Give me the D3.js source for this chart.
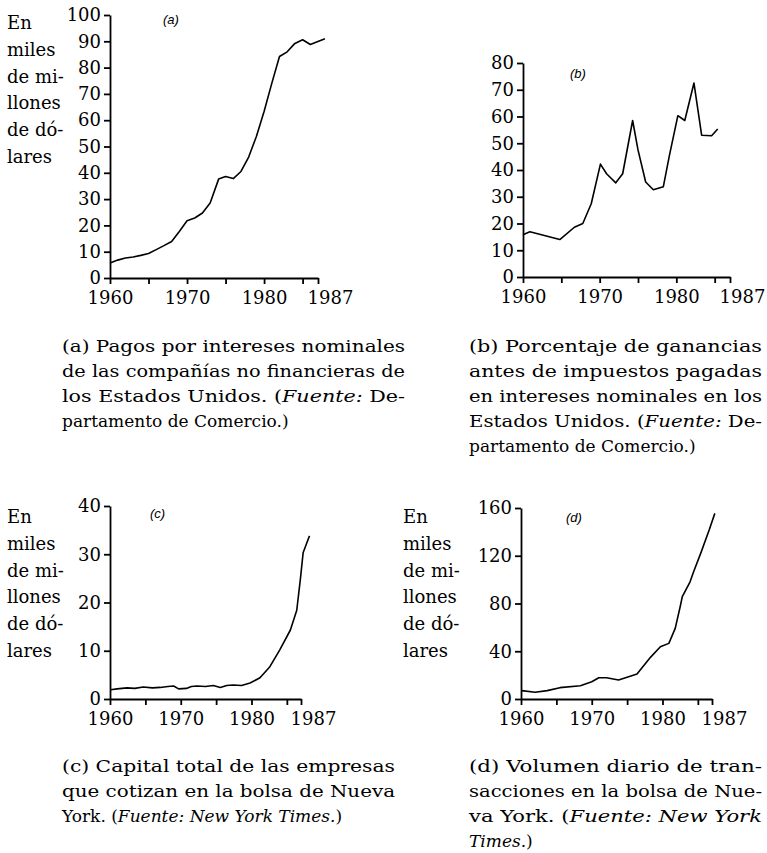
<!DOCTYPE html>
<html>
<head>
<meta charset="utf-8">
<script src="https://cdn.jsdelivr.net/npm/d3@7"></script>
<style>
  body { margin: 0; background: #fff; }
  svg text { font-family: "DejaVu Serif", serif; fill: #000; }
</style>
</head>
<body>
<svg id="chart" width="767" height="853"></svg>
<script>
// (a) Nominal interest payments of US non-financial corporations (billions of dollars)
const yearsA  = [1960, 1961, 1962, 1963, 1964, 1965, 1966, 1967, 1968, 1969, 1970, 1971, 1972, 1973, 1974.1, 1975, 1976, 1977, 1978, 1979, 1980, 1981, 1982, 1983, 1984, 1985, 1986, 1987.9];
const valuesA = [5.7, 6.8, 7.6, 8.0, 8.6, 9.3, 10.8, 12.3, 13.9, 17.7, 21.8, 22.8, 24.7, 28.5, 37.6, 38.6, 37.8, 40.5, 46.0, 53.8, 63.3, 74.0, 84.2, 86.0, 89.2, 90.6, 88.8, 91.0];

// (b) Share of pre-tax profits paid as nominal interest (percent)
const yearsB  = [1960, 1960.9, 1964.8, 1966.7, 1967.8, 1968.9, 1970.1, 1970.9, 1972.1, 1973.0, 1974.3, 1975.0, 1976.0, 1977.0, 1978.3, 1979.1, 1980.2, 1981.1, 1982.3, 1983.3, 1984.6, 1985.4];
const valuesB = [15.8, 16.9, 14.0, 18.6, 20.0, 27.4, 42.2, 38.6, 35.2, 38.6, 58.5, 47.5, 35.5, 32.6, 33.7, 45.5, 60.3, 58.5, 72.5, 53.0, 52.8, 55.3];

// (c) Total capital of companies listed on the NYSE (billions of dollars)
const yearsC  = [1960.1, 1961.0, 1962.4, 1963.5, 1964.7, 1966.0, 1967.1, 1968.2, 1969.0, 1969.7, 1970.8, 1971.5, 1972.3, 1973.5, 1974.6, 1975.6, 1976.5, 1977.4, 1978.6, 1979.8, 1981.2, 1982.6, 1984.0, 1985.5, 1986.4, 1986.9, 1987.3, 1987.8, 1988.2];
const valuesC = [1.9, 2.1, 2.3, 2.2, 2.5, 2.3, 2.4, 2.6, 2.7, 2.1, 2.2, 2.6, 2.7, 2.6, 2.8, 2.4, 2.8, 2.9, 2.8, 3.3, 4.4, 6.7, 10.2, 14.3, 18.4, 24.7, 30.3, 32.3, 33.8];

// (d) Daily trading volume on the NYSE (billions of dollars)
const yearsD  = [1960.1, 1962.0, 1963.7, 1965.5, 1968.4, 1970.0, 1971.0, 1972.1, 1973.8, 1975.0, 1976.4, 1978.3, 1979.7, 1980.9, 1981.8, 1982.5, 1982.8, 1983.9, 1984.4, 1985.4, 1986.6, 1987.4];
const valuesD = [7.0, 5.6, 7.0, 9.5, 11.1, 14.5, 17.8, 17.8, 15.9, 18.2, 20.9, 34.9, 43.8, 46.6, 59.2, 77.3, 85.7, 98.2, 106.6, 122.0, 141.5, 155.5];

// Axis ticks
const xTicks  = [1960, 1965, 1970, 1975, 1980, 1985, 1987];
const xLabels = [1960, 1970, 1980, 1987];
const yTicksA = [0, 10, 20, 30, 40, 50, 60, 70, 80, 90, 100];
const yTicksB = [0, 10, 20, 30, 40, 50, 60, 70, 80];
const yTicksC = [0, 10, 20, 30, 40];
const yTicksD = [0, 40, 80, 120, 160];

// Text
const unitLines = ["En", "miles", "de mi-", "llones", "de dó-", "lares"];
const captionA = ["(a) Pagos por intereses nominales",
                  "de las compañías no financieras de",
                  "los Estados Unidos. (*Fuente:* De-",
                  "partamento de Comercio.)"];
const captionB = ["(b) Porcentaje de ganancias",
                  "antes de impuestos pagadas",
                  "en intereses nominales en los",
                  "Estados Unidos. (*Fuente:* De-",
                  "partamento de Comercio.)"];
const captionC = ["(c) Capital total de las empresas",
                  "que cotizan en la bolsa de Nueva",
                  "York. (*Fuente: New York Times.*)"];
const captionD = ["(d) Volumen diario de tran-",
                  "sacciones en la bolsa de Nue-",
                  "va York. (*Fuente: New York*",
                  "*Times.*)"];

// Layout of the four panels
const panels = [
  { years: yearsA, values: valuesA, yTicks: yTicksA, tag: "(a)",
    x0: 110, x1: 318, yb: 278, yt: 15, tagPos: [163, 24], unit: [7, 23],
    cap: { x: 62, y: 352, w: 343, lines: captionA } },
  { years: yearsB, values: valuesB, yTicks: yTicksB, tag: "(b)",
    x0: 523, x1: 730, yb: 277, yt: 63, tagPos: [570, 78], unit: null,
    cap: { x: 469, y: 352, w: 293, lines: captionB } },
  { years: yearsC, values: valuesC, yTicks: yTicksC, tag: "(c)",
    x0: 110, x1: 301, yb: 699, yt: 506, tagPos: [150, 518], unit: [7, 517],
    cap: { x: 62, y: 772, w: 333, lines: captionC } },
  { years: yearsD, values: valuesD, yTicks: yTicksD, tag: "(d)",
    x0: 521, x1: 712, yb: 699, yt: 508, tagPos: [566, 522], unit: [403, 517],
    cap: { x: 469, y: 772, w: 293, lines: captionD } }
];

const svg = d3.select("#chart");
const FONT = 18;

panels.forEach(p => {
  const g = svg.append("g");
  const x = d3.scaleLinear().domain([1960, 1987]).range([p.x0, p.x1]);
  const yMax = p.yTicks[p.yTicks.length - 1];
  const y = d3.scaleLinear().domain([0, yMax]).range([p.yb, p.yt]);

  // y axis
  const ya = g.append("g")
    .attr("transform", `translate(${p.x0},0)`)
    .call(d3.axisLeft(y).tickValues(p.yTicks).tickSize(6).tickSizeOuter(0).tickPadding(3));
  // x axis
  const xa = g.append("g")
    .attr("transform", `translate(0,${p.yb})`)
    .call(d3.axisBottom(x).tickValues(xTicks).tickSize(6).tickSizeOuter(0).tickPadding(7)
      .tickFormat(d => xLabels.includes(d) ? String(d) : ""));
  xa.selectAll(".tick text").filter(d => d === 1987).attr("dx", 12);

  [ya, xa].forEach(a => {
    a.attr("font-family", null).attr("font-size", null);
    a.selectAll("path, line").attr("stroke", "#000").attr("stroke-width", 1.8);
    a.selectAll("text").style("font-family", '"DejaVu Serif", serif')
      .style("font-size", FONT + "px").attr("fill", "#000");
  });

  // data line
  const pts = p.years.map((yr, i) => [yr, p.values[i]]);
  g.append("path")
    .datum(pts)
    .attr("fill", "none")
    .attr("stroke", "#000")
    .attr("stroke-width", 1.6)
    .attr("stroke-linejoin", "round")
    .attr("d", d3.line().x(d => x(d[0])).y(d => y(d[1])));

  // panel tag
  g.append("text")
    .attr("x", p.tagPos[0]).attr("y", p.tagPos[1])
    .style("font-family", '"Liberation Sans", sans-serif')
    .style("font-style", "italic")
    .style("font-size", "13px")
    .text(p.tag);

  // unit label
  if (p.unit) {
    unitLines.forEach((t, i) => {
      g.append("text")
        .attr("x", p.unit[0]).attr("y", p.unit[1] + 6 + i * 26.8)
        .style("font-size", FONT + "px")
        .text(t);
    });
  }

  // caption, justified except for the last line
  p.cap.lines.forEach((line, i) => {
    const t = g.append("text")
      .attr("x", p.cap.x).attr("y", p.cap.y + i * 25)
      .style("font-size", "17px");
    line.split("*").forEach((seg, k) => {
      if (seg.length) t.append("tspan").style("font-style", k % 2 ? "italic" : "normal").text(seg);
    });
    if (i < p.cap.lines.length - 1) {
      t.attr("textLength", p.cap.w).attr("lengthAdjust", "spacingAndGlyphs");
    }
  });
});
</script>
</body>
</html>
